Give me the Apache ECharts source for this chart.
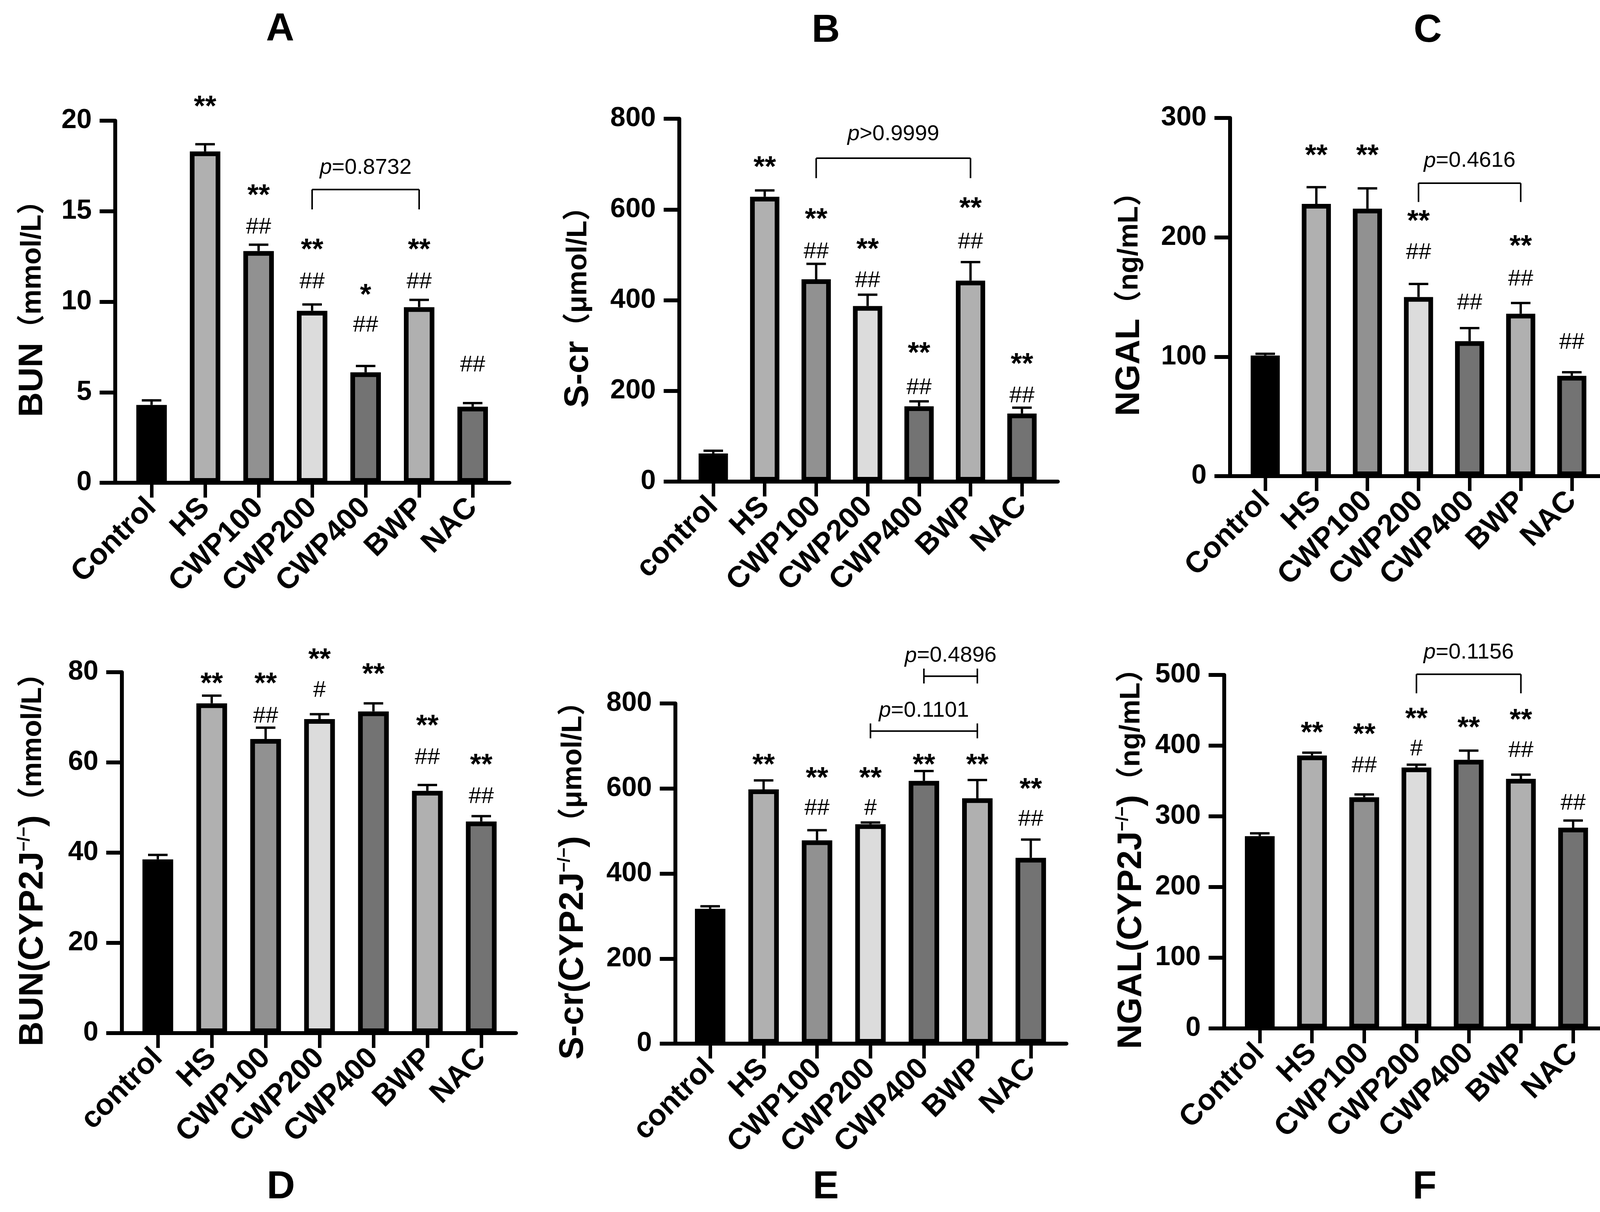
<!DOCTYPE html>
<html>
<head>
<meta charset="UTF-8">
<title>BUN / S-cr / NGAL</title>
<script src="https://cdn.jsdelivr.net/npm/echarts@6/dist/echarts.min.js"></script>
<style>
  html, body { margin: 0; padding: 0; background: #fff; }
  #chart { width: 4142px; height: 3103px; }
</style>
</head>
<body>
<div id="chart"></div>
<script>
var FF = "'Liberation Sans', Arial, 'Noto Sans CJK SC', sans-serif";

// groups
var groupsUpper = ['Control', 'HS', 'CWP100', 'CWP200', 'CWP400', 'BWP', 'NAC'];
var groupsLower = ['control', 'HS', 'CWP100', 'CWP200', 'CWP400', 'BWP', 'NAC'];
var barColors = ['#000000', '#b0b0b0', '#919191', '#dcdcdc', '#737373', '#b0b0b0', '#737373'];

// A: BUN
var bunMean = [4.3, 18.3, 12.8, 9.5, 6.1, 9.7, 4.2];
var bunErr = [0.25, 0.4, 0.35, 0.35, 0.35, 0.4, 0.2];
var bunStar = ['', '**', '**', '**', '*', '**', ''];
var bunStarY = [null, 21.0, 16.1, 13.1, 10.6, 13.1, null];
var bunHash = ['', '', '##', '##', '##', '##', '##'];
var bunHashY = [null, null, 14.1, 11.1, 8.7, 11.1, 6.5];
var bunBracket = [3, 5, 16.2, 15.1, 16.2, 17.4];  // from, to, line, end low, end high, label
var bunP = 'p=0.8732';

// B: S-cr
var scrMean = [62, 628, 446, 387, 166, 443, 150];
var scrErr = [6, 14, 34, 25, 11, 41, 13];
var scrStar = ['', '**', '**', '**', '**', '**', '**'];
var scrStarY = [null, 702, 588, 521, 292, 612, 268];
var scrHash = ['', '', '##', '##', '##', '##', '##'];
var scrHashY = [null, null, 506, 443, 207, 528, 189];
var scrBracket = [2, 5, 713, 669, 713, 766];
var scrP = 'p>0.9999';

// C: NGAL
var ngalMean = [101, 228, 224, 150, 113, 136, 84];
var ngalErr = [1.5, 14, 17, 11, 11, 9, 3];
var ngalStar = ['', '**', '**', '**', '', '**', ''];
var ngalStarY = [null, 272, 272, 217, null, 196, null];
var ngalHash = ['', '', '', '##', '##', '##', '##'];
var ngalHashY = [null, null, null, 187, 145, 165, 112];
var ngalBracket = [3, 5, 245.4, 229.6, 245.4, 264];
var ngalP = 'p=0.4616';

// D: BUN (CYP2J-/-)
var bunKoMean = [38.5, 73.1, 65.2, 69.6, 71.3, 53.7, 46.9];
var bunKoErr = [1, 1.7, 2.5, 1.1, 1.8, 1.3, 1.2];
var bunKoStar = ['', '**', '**', '**', '**', '**', '**'];
var bunKoStarY = [null, 78.4, 78.4, 83.8, 80.5, 69, 60.4];
var bunKoHash = ['', '', '##', '#', '', '##', '##'];
var bunKoHashY = [null, null, 70.2, 75.9, null, 61, 52.4];

// E: S-cr (CYP2J-/-)
var scrKoMean = [317, 598, 478, 516, 618, 577, 437];
var scrKoErr = [6, 21, 24, 4, 23, 43, 43];
var scrKoStar = ['', '**', '**', '**', '**', '**', '**'];
var scrKoStarY = [null, 665, 634, 634, 665, 665, 608];
var scrKoHash = ['', '', '##', '#', '', '', '##'];
var scrKoHashY = [null, null, 553, 553, null, null, 527];
var scrKoBracket1 = [3, 5, 735, 718, 753, 783];
var scrKoP1 = 'p=0.1101';
var scrKoBracket2 = [4, 5, 864, 847, 882, 912];
var scrKoP2 = 'p=0.4896';

// F: NGAL (CYP2J-/-)
var ngalKoMean = [272, 386, 327, 369, 380, 353, 284];
var ngalKoErr = [4, 4, 4, 4, 13, 6, 10];
var ngalKoStar = ['', '**', '**', '**', '**', '**', ''];
var ngalKoStarY = [null, 424, 422, 444, 431, 442, null];
var ngalKoHash = ['', '', '##', '#', '', '##', '##'];
var ngalKoHashY = [null, null, 371, 395, null, 393, 318];
var ngalKoBracket = [3, 5, 501, 474, 501, 532];
var ngalKoP = 'p=0.1156';

var panels = [
  { title: 'A', tx: 717, ty: 76, axisX: 295, top: 309, zero: 1236, first: 388, step: 137, end: 1304,
    yMax: 20, yStep: 5, nameGap: 167, cats: groupsUpper, mean: bunMean, err: bunErr,
    star: bunStar, starY: bunStarY, hash: bunHash, hashY: bunHashY,
    name: '{m|BUN}{u|（mmol/L）}', brackets: [[bunBracket, bunP]] },
  { title: 'B', tx: 2114, ty: 79, axisX: 1739, top: 304, zero: 1233, first: 1826, step: 131.7, end: 2708,
    yMax: 800, yStep: 200, nameGap: 214, cats: groupsLower, mean: scrMean, err: scrErr,
    star: scrStar, starY: scrStarY, hash: scrHash, hashY: scrHashY,
    name: '{m|S-cr}{u|（μmol/L）}', brackets: [[scrBracket, scrP]] },
  { title: 'C', tx: 3655, ty: 79, axisX: 3149, top: 302, zero: 1219, first: 3239, step: 130.8, end: 4114,
    yMax: 300, yStep: 100, nameGap: 213, cats: groupsUpper, mean: ngalMean, err: ngalErr,
    star: ngalStar, starY: ngalStarY, hash: ngalHash, hashY: ngalHashY,
    name: '{m|NGAL}{u|（ng/mL）}', brackets: [[ngalBracket, ngalP]] },
  { title: 'D', tx: 719, ty: 3040, axisX: 312, top: 1721, zero: 2645, first: 404, step: 138, end: 1321,
    yMax: 80, yStep: 20, nameGap: 183, cats: groupsLower, mean: bunKoMean, err: bunKoErr,
    star: bunKoStar, starY: bunKoStarY, hash: bunKoHash, hashY: bunKoHashY,
    name: '{m|BUN(CYP2J}{s|−/−}{m|)}{u|（mmol/L）}', brackets: [] },
  { title: 'E', tx: 2114, ty: 3040, axisX: 1729, top: 1801, zero: 2672, first: 1818, step: 136.8, end: 2730,
    yMax: 800, yStep: 200, nameGap: 217, cats: groupsLower, mean: scrKoMean, err: scrKoErr,
    star: scrKoStar, starY: scrKoStarY, hash: scrKoHash, hashY: scrKoHashY,
    name: '{m|S-cr(CYP2J}{s|−/−}{m|)}{u|（μmol/L）}', brackets: [[scrKoBracket1, scrKoP1], [scrKoBracket2, scrKoP2]] },
  { title: 'F', tx: 3647, ty: 3040, axisX: 3134, top: 1728, zero: 2633, first: 3225, step: 133.7, end: 4114,
    yMax: 500, yStep: 100, nameGap: 193, cats: groupsUpper, mean: ngalKoMean, err: ngalKoErr,
    star: ngalKoStar, starY: ngalKoStarY, hash: ngalKoHash, hashY: ngalKoHashY,
    name: '{m|NGAL(CYP2J}{s|−/−}{m|)}{u|（ng/mL）}', brackets: [[ngalKoBracket, ngalKoP]] }
];

function errRender(mean, err) {
  return function (params, api) {
    var i = params.dataIndex;
    var a = api.coord([i, mean[i]]);
    var b = api.coord([i, mean[i] + err[i]]);
    var st = { stroke: '#000', lineWidth: 6 };
    return { type: 'group', children: [
      { type: 'line', shape: { x1: a[0], y1: a[1], x2: b[0], y2: b[1] }, style: st },
      { type: 'line', shape: { x1: b[0] - 25, y1: b[1], x2: b[0] + 25, y2: b[1] }, style: st }
    ] };
  };
}

function markRender(p) {
  return function (params, api) {
    var i = params.dataIndex;
    var kids = [];
    if (p.star[i]) {
      var s = api.coord([i, p.starY[i]]);
      kids.push({ type: 'text', x: s[0], y: s[1] + 13, style: {
        text: p.star[i], fontSize: 74, fontWeight: 'bold', fontFamily: FF, fill: '#000',
        align: 'center', verticalAlign: 'middle' } });
    }
    if (p.hash[i]) {
      var h = api.coord([i, p.hashY[i]]);
      kids.push({ type: 'text', x: h[0], y: h[1], style: {
        text: p.hash[i], fontSize: 58, fontFamily: FF, fill: '#000',
        align: 'center', verticalAlign: 'middle' } });
    }
    return { type: 'group', children: kids };
  };
}

function bracketRender(br, label) {
  return function (params, api) {
    var l = api.coord([br[0], br[2]]);
    var r = api.coord([br[1], br[2]]);
    var l1 = api.coord([br[0], br[3]]), l2 = api.coord([br[0], br[4]]);
    var r1 = api.coord([br[1], br[3]]), r2 = api.coord([br[1], br[4]]);
    var t = api.coord([(br[0] + br[1]) / 2, br[5]]);
    var st = { stroke: '#000', lineWidth: 4, fill: null };
    return { type: 'group', children: [
      { type: 'line', shape: { x1: l[0], y1: l[1], x2: r[0], y2: r[1] }, style: st },
      { type: 'line', shape: { x1: l1[0], y1: l1[1], x2: l2[0], y2: l2[1] }, style: st },
      { type: 'line', shape: { x1: r1[0], y1: r1[1], x2: r2[0], y2: r2[1] }, style: st },
      { type: 'text', x: (l[0] + r[0]) / 2, y: t[1], style: {
        text: '{i|' + label.charAt(0) + '}' + label.slice(1),
        fontSize: 56, fontFamily: FF, fill: '#000', align: 'center', verticalAlign: 'middle',
        rich: { i: { fontSize: 56, fontFamily: FF, fontStyle: 'italic', fill: '#000' } } } }
    ] };
  };
}

var grids = [], xAxes = [], yAxes = [], series = [], graphics = [];

panels.forEach(function (p, k) {
  var h = p.zero - p.top;
  grids.push({ left: p.axisX, top: p.top, width: p.end - p.axisX, height: h });
  grids.push({ left: p.first - p.step / 2, top: p.top, width: p.step * 7, height: h });

  xAxes.push({ gridIndex: 2 * k, type: 'value', min: 0, max: 1,
    axisLine: { show: true, onZero: false, lineStyle: { color: '#000', width: 10 } },
    axisTick: { show: false }, axisLabel: { show: false }, splitLine: { show: false } });
  xAxes.push({ gridIndex: 2 * k + 1, type: 'category', data: p.cats,
    axisLine: { show: false },
    axisTick: { show: true, alignWithLabel: true, length: 38, lineStyle: { color: '#000', width: 9 } },
    axisLabel: { interval: 0, rotate: 45, margin: 52, fontSize: 76, fontWeight: 'bold',
      color: '#000', fontFamily: FF } });

  yAxes.push({ gridIndex: 2 * k, type: 'value', min: 0, max: p.yMax, interval: p.yStep,
    axisLine: { show: true, onZero: false, lineStyle: { color: '#000', width: 10 } },
    axisTick: { show: true, length: 40, lineStyle: { color: '#000', width: 10 } },
    axisLabel: { margin: 60, fontSize: 70, fontWeight: 'bold', color: '#000', fontFamily: FF },
    splitLine: { show: false },
    name: p.name, nameLocation: 'middle', nameGap: p.nameGap, nameRotate: 90,
    nameTextStyle: { color: '#000', fontFamily: FF, rich: {
      m: { fontSize: 88, fontWeight: 'bold', fontFamily: FF, color: '#000' },
      u: { fontSize: 72, fontWeight: 'bold', fontFamily: FF, color: '#000' },
      s: { fontSize: 44, fontWeight: 'bold', fontFamily: FF, color: '#000', verticalAlign: 'top' }
    } } });
  yAxes.push({ gridIndex: 2 * k + 1, type: 'value', min: 0, max: p.yMax, show: false });

  series.push({ type: 'bar', xAxisIndex: 2 * k + 1, yAxisIndex: 2 * k + 1,
    barWidth: p.step * 0.57, z: 2,
    data: p.mean.map(function (v, i) {
      return { value: v, itemStyle: { color: barColors[i], borderColor: '#000', borderWidth: 12 } };
    }) });
  series.push({ type: 'custom', xAxisIndex: 2 * k + 1, yAxisIndex: 2 * k + 1, z: 3,
    renderItem: errRender(p.mean, p.err),
    data: p.mean.map(function (v, i) { return [i, v + p.err[i]]; }) });
  series.push({ type: 'custom', xAxisIndex: 2 * k + 1, yAxisIndex: 2 * k + 1, z: 4, clip: false,
    renderItem: markRender(p),
    data: p.mean.map(function (v, i) { return [i, v]; }) });
  p.brackets.forEach(function (b) {
    series.push({ type: 'custom', xAxisIndex: 2 * k + 1, yAxisIndex: 2 * k + 1, z: 4, clip: false,
      renderItem: bracketRender(b[0], b[1]), data: [[b[0][0], b[0][2]]] });
  });

  graphics.push({ type: 'text', x: p.tx, y: p.ty, style: {
    text: p.title, fontSize: 100, fontWeight: 'bold', fontFamily: FF, fill: '#000',
    align: 'center', verticalAlign: 'middle' } });
});

var chart = echarts.init(document.getElementById('chart'));
chart.setOption({
  backgroundColor: '#ffffff',
  animation: false,
  grid: grids,
  xAxis: xAxes,
  yAxis: yAxes,
  series: series,
  graphic: graphics
});
</script>
</body>
</html>
